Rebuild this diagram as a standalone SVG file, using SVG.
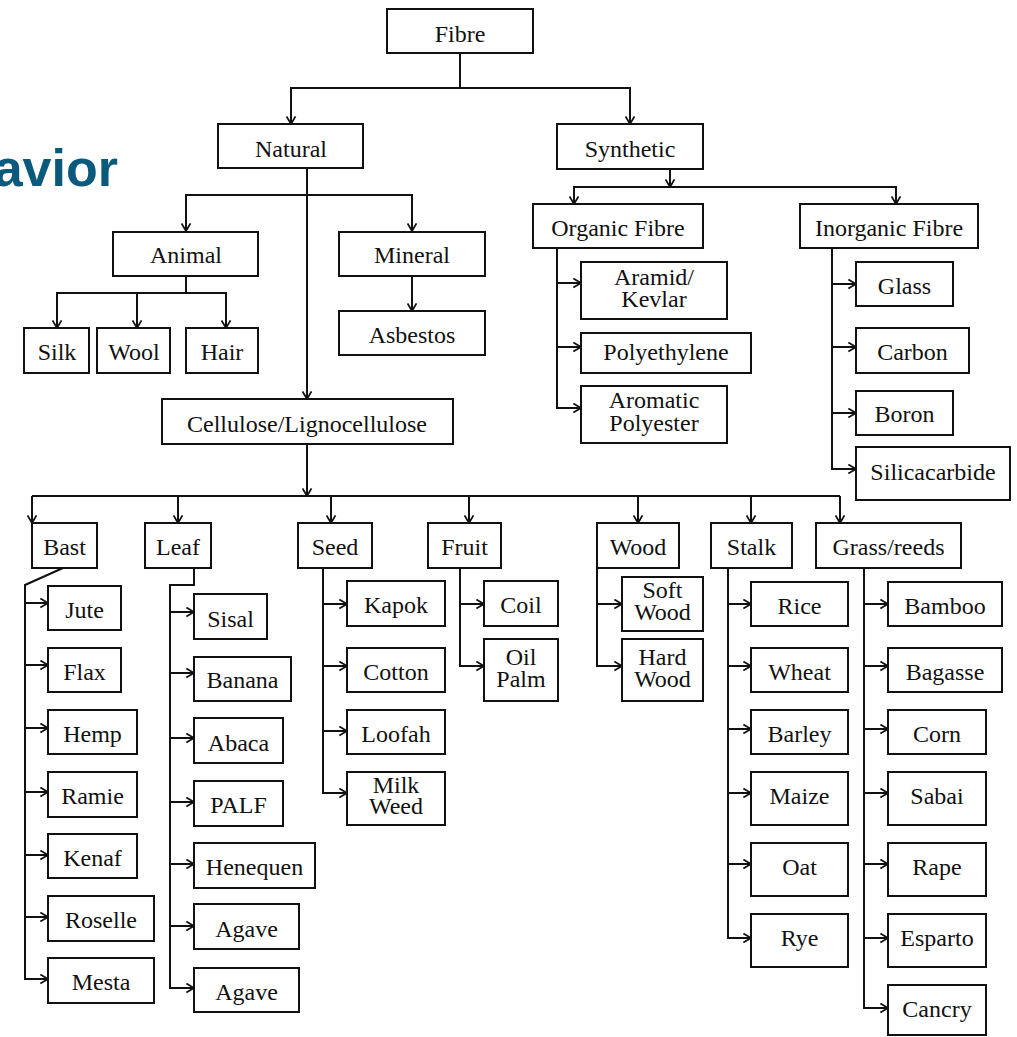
<svg xmlns="http://www.w3.org/2000/svg" width="1017" height="1037" viewBox="0 0 1017 1037">
<style>
.b{fill:#fff;stroke:#111;stroke-width:2}
.t{font-family:"Liberation Serif","Times New Roman",serif;font-size:24px;fill:#111;text-anchor:middle}
.c{fill:none;stroke:#111;stroke-width:2}
.a{marker-end:url(#ar)}
</style>
<defs>
<marker id="ar" viewBox="0 0 10 12" refX="9.5" refY="6" markerWidth="9" markerHeight="11" markerUnits="userSpaceOnUse" orient="auto">
<path d="M1,1 L9.5,6 L1,11" fill="none" stroke="#111" stroke-width="2"/>
</marker>
</defs>
<rect width="1017" height="1037" fill="#fff"/>
<text x="118" y="186" font-family="'Liberation Sans',Arial,sans-serif" font-weight="bold" font-size="52" fill="#0b5a7e" text-anchor="end">avior</text>
<g id="connectors">
<path class="c a" d="M460,53 V88 H291 V124"/>
<path class="c a" d="M460,88 H630 V124"/>
<path class="c a" d="M307,168 V195 H186 V231"/>
<path class="c a" d="M307,195 H412 V231"/>
<path class="c a" d="M307,195 V399"/>
<path class="c a" d="M186,276 V293 H57 V328"/>
<path class="c a" d="M137,293 V328"/>
<path class="c a" d="M186,293 H226 V328"/>
<path class="c a" d="M412,276 V311"/>
<path class="c a" d="M670,169 V187"/>
<path class="c a" d="M670,187 H574 V204"/>
<path class="c a" d="M670,187 H896 V204"/>
<path class="c a" d="M557,248 V408 H581"/>
<path class="c a" d="M557,283 H581"/>
<path class="c a" d="M557,347 H581"/>
<path class="c a" d="M832,248 V469 H856"/>
<path class="c a" d="M832,284 H856"/>
<path class="c a" d="M832,347 H856"/>
<path class="c a" d="M832,413 H856"/>
<path class="c a" d="M307,444 V496"/>
<path class="c" d="M32,496 H840"/>
<path class="c a" d="M32,496 V523"/>
<path class="c a" d="M178,496 V523"/>
<path class="c a" d="M331,496 V523"/>
<path class="c a" d="M469,496 V523"/>
<path class="c a" d="M638,496 V523"/>
<path class="c a" d="M751,496 V523"/>
<path class="c a" d="M840,496 V523"/>
<path class="c a" d="M63,568 L25,585 V979 H48"/>
<path class="c a" d="M25,603 H48"/>
<path class="c a" d="M25,665 H48"/>
<path class="c a" d="M25,728 H48"/>
<path class="c a" d="M25,792 H48"/>
<path class="c a" d="M25,855 H48"/>
<path class="c a" d="M25,917 H48"/>
<path class="c a" d="M194,568 V585 H170 V988 H194"/>
<path class="c a" d="M170,612 H194"/>
<path class="c a" d="M170,673 H194"/>
<path class="c a" d="M170,738 H194"/>
<path class="c a" d="M170,802 H194"/>
<path class="c a" d="M170,864 H194"/>
<path class="c a" d="M170,926 H194"/>
<path class="c a" d="M323,568 V793 H347"/>
<path class="c a" d="M323,604 H347"/>
<path class="c a" d="M323,666 H347"/>
<path class="c a" d="M323,731 H347"/>
<path class="c a" d="M460,568 V666 H484"/>
<path class="c a" d="M460,604 H484"/>
<path class="c a" d="M597,568 V666 H622"/>
<path class="c a" d="M597,604 H622"/>
<path class="c a" d="M728,568 V938 H751"/>
<path class="c a" d="M728,604 H751"/>
<path class="c a" d="M728,666 H751"/>
<path class="c a" d="M728,729 H751"/>
<path class="c a" d="M728,793 H751"/>
<path class="c a" d="M728,864 H751"/>
<path class="c a" d="M864,568 V1008 H888"/>
<path class="c a" d="M864,604 H888"/>
<path class="c a" d="M864,666 H888"/>
<path class="c a" d="M864,729 H888"/>
<path class="c a" d="M864,793 H888"/>
<path class="c a" d="M864,864 H888"/>
<path class="c a" d="M864,938 H888"/>
</g>
<g id="fibre"><rect class="b" x="387" y="9" width="146" height="44"/><text class="t" x="460" y="42">Fibre</text></g>
<g id="natural"><rect class="b" x="218" y="124" width="145" height="44"/><text class="t" x="291" y="157">Natural</text></g>
<g id="synthetic"><rect class="b" x="557" y="124" width="146" height="45"/><text class="t" x="630" y="157">Synthetic</text></g>
<g id="animal"><rect class="b" x="113" y="232" width="145" height="44"/><text class="t" x="186" y="263">Animal</text></g>
<g id="mineral"><rect class="b" x="339" y="232" width="146" height="44"/><text class="t" x="412" y="263">Mineral</text></g>
<g id="asbestos"><rect class="b" x="339" y="311" width="146" height="44"/><text class="t" x="412" y="343">Asbestos</text></g>
<g id="silk"><rect class="b" x="24" y="328" width="65" height="45"/><text class="t" x="57" y="360">Silk</text></g>
<g id="wool"><rect class="b" x="97" y="328" width="73" height="45"/><text class="t" x="134" y="360">Wool</text></g>
<g id="hair"><rect class="b" x="186" y="328" width="72" height="45"/><text class="t" x="222" y="360">Hair</text></g>
<g id="cellulose"><rect class="b" x="162" y="399" width="291" height="45"/><text class="t" x="307" y="432">Cellulose/Lignocellulose</text></g>
<g id="organic"><rect class="b" x="533" y="204" width="170" height="44"/><text class="t" x="618" y="236">Organic Fibre</text></g>
<g id="inorganic"><rect class="b" x="800" y="204" width="178" height="44"/><text class="t" x="889" y="236">Inorganic Fibre</text></g>
<g id="aramid"><rect class="b" x="581" y="262" width="146" height="57"/><text class="t" x="654" y="285">Aramid/</text><text class="t" x="654" y="307">Kevlar</text></g>
<g id="polyethylene"><rect class="b" x="581" y="333" width="170" height="40"/><text class="t" x="666" y="360">Polyethylene</text></g>
<g id="aromatic"><rect class="b" x="581" y="386" width="146" height="57"/><text class="t" x="654" y="408">Aromatic</text><text class="t" x="654" y="431">Polyester</text></g>
<g id="glass"><rect class="b" x="856" y="262" width="97" height="44"/><text class="t" x="904.5" y="294">Glass</text></g>
<g id="carbon"><rect class="b" x="856" y="328" width="113" height="45"/><text class="t" x="912.5" y="360">Carbon</text></g>
<g id="boron"><rect class="b" x="856" y="391" width="97" height="44"/><text class="t" x="904.5" y="422">Boron</text></g>
<g id="silicacarbide"><rect class="b" x="856" y="447" width="154" height="53"/><text class="t" x="933" y="480">Silicacarbide</text></g>
<g id="bast"><rect class="b" x="32" y="523" width="65" height="45"/><text class="t" x="64.5" y="555">Bast</text></g>
<g id="leaf"><rect class="b" x="145" y="523" width="66" height="45"/><text class="t" x="178" y="555">Leaf</text></g>
<g id="seed"><rect class="b" x="298" y="523" width="74" height="45"/><text class="t" x="335" y="555">Seed</text></g>
<g id="fruit"><rect class="b" x="428" y="523" width="73" height="45"/><text class="t" x="464.5" y="555">Fruit</text></g>
<g id="wood"><rect class="b" x="597" y="523" width="82" height="45"/><text class="t" x="638" y="555">Wood</text></g>
<g id="stalk"><rect class="b" x="711" y="523" width="81" height="45"/><text class="t" x="751.5" y="555">Stalk</text></g>
<g id="grass"><rect class="b" x="816" y="523" width="145" height="45"/><text class="t" x="888.5" y="555">Grass/reeds</text></g>
<g id="jute"><rect class="b" x="48" y="586" width="73" height="44"/><text class="t" x="84.5" y="618">Jute</text></g>
<g id="flax"><rect class="b" x="48" y="648" width="73" height="44"/><text class="t" x="84.5" y="680">Flax</text></g>
<g id="hemp"><rect class="b" x="48" y="710" width="89" height="44"/><text class="t" x="92.5" y="742">Hemp</text></g>
<g id="ramie"><rect class="b" x="48" y="772" width="89" height="45"/><text class="t" x="92.5" y="804">Ramie</text></g>
<g id="kenaf"><rect class="b" x="48" y="834" width="89" height="44"/><text class="t" x="92.5" y="866">Kenaf</text></g>
<g id="roselle"><rect class="b" x="48" y="896" width="106" height="45"/><text class="t" x="101" y="928">Roselle</text></g>
<g id="mesta"><rect class="b" x="48" y="958" width="106" height="45"/><text class="t" x="101" y="990">Mesta</text></g>
<g id="sisal"><rect class="b" x="194" y="594" width="73" height="45"/><text class="t" x="230.5" y="627">Sisal</text></g>
<g id="banana"><rect class="b" x="194" y="657" width="97" height="44"/><text class="t" x="242.5" y="688">Banana</text></g>
<g id="abaca"><rect class="b" x="194" y="718" width="89" height="45"/><text class="t" x="238.5" y="751">Abaca</text></g>
<g id="palf"><rect class="b" x="194" y="781" width="89" height="45"/><text class="t" x="238.5" y="813">PALF</text></g>
<g id="henequen"><rect class="b" x="194" y="843" width="121" height="45"/><text class="t" x="254.5" y="875">Henequen</text></g>
<g id="agave1"><rect class="b" x="194" y="904" width="105" height="45"/><text class="t" x="246.5" y="937">Agave</text></g>
<g id="agave2"><rect class="b" x="194" y="968" width="105" height="44"/><text class="t" x="246.5" y="1000">Agave</text></g>
<g id="kapok"><rect class="b" x="347" y="581" width="98" height="45"/><text class="t" x="396" y="613">Kapok</text></g>
<g id="cotton"><rect class="b" x="347" y="648" width="98" height="44"/><text class="t" x="396" y="680">Cotton</text></g>
<g id="loofah"><rect class="b" x="347" y="710" width="98" height="44"/><text class="t" x="396" y="742">Loofah</text></g>
<g id="milkweed"><rect class="b" x="347" y="772" width="98" height="53"/><text class="t" x="396" y="793">Milk</text><text class="t" x="396" y="814">Weed</text></g>
<g id="coil"><rect class="b" x="484" y="581" width="74" height="45"/><text class="t" x="521" y="613">Coil</text></g>
<g id="oilpalm"><rect class="b" x="484" y="639" width="74" height="62"/><text class="t" x="521" y="665">Oil</text><text class="t" x="521" y="687">Palm</text></g>
<g id="softwood"><rect class="b" x="622" y="577" width="81" height="54"/><text class="t" x="662.5" y="598">Soft</text><text class="t" x="662.5" y="620">Wood</text></g>
<g id="hardwood"><rect class="b" x="622" y="639" width="81" height="62"/><text class="t" x="662.5" y="665">Hard</text><text class="t" x="662.5" y="687">Wood</text></g>
<g id="rice"><rect class="b" x="751" y="582" width="97" height="44"/><text class="t" x="799.5" y="614">Rice</text></g>
<g id="wheat"><rect class="b" x="751" y="648" width="97" height="44"/><text class="t" x="799.5" y="680">Wheat</text></g>
<g id="barley"><rect class="b" x="751" y="710" width="97" height="44"/><text class="t" x="799.5" y="742">Barley</text></g>
<g id="maize"><rect class="b" x="751" y="772" width="97" height="53"/><text class="t" x="799.5" y="804">Maize</text></g>
<g id="oat"><rect class="b" x="751" y="843" width="97" height="53"/><text class="t" x="799.5" y="875">Oat</text></g>
<g id="rye"><rect class="b" x="751" y="914" width="97" height="53"/><text class="t" x="799.5" y="946">Rye</text></g>
<g id="bamboo"><rect class="b" x="888" y="582" width="114" height="44"/><text class="t" x="945" y="614">Bamboo</text></g>
<g id="bagasse"><rect class="b" x="888" y="648" width="114" height="44"/><text class="t" x="945" y="680">Bagasse</text></g>
<g id="corn"><rect class="b" x="888" y="710" width="98" height="44"/><text class="t" x="937" y="742">Corn</text></g>
<g id="sabai"><rect class="b" x="888" y="772" width="98" height="53"/><text class="t" x="937" y="804">Sabai</text></g>
<g id="rape"><rect class="b" x="888" y="843" width="98" height="53"/><text class="t" x="937" y="875">Rape</text></g>
<g id="esparto"><rect class="b" x="888" y="914" width="98" height="53"/><text class="t" x="937" y="946">Esparto</text></g>
<g id="cancry"><rect class="b" x="888" y="985" width="98" height="50"/><text class="t" x="937" y="1017">Cancry</text></g>
</svg>
